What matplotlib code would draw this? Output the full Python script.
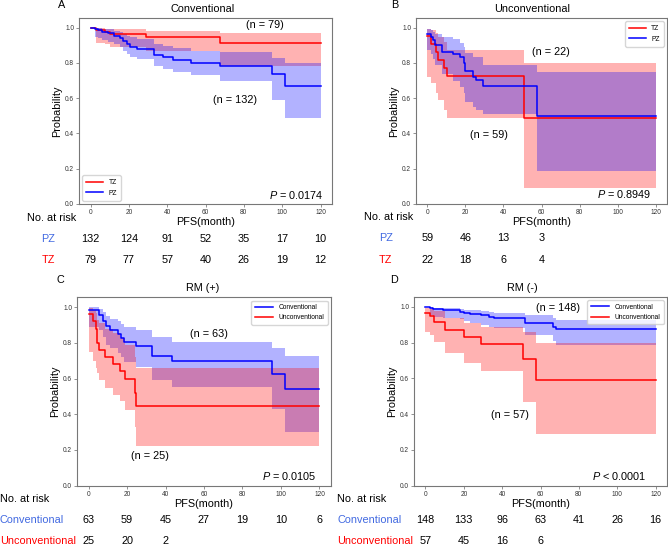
import matplotlib
matplotlib.use('Agg')
import matplotlib.pyplot as plt
from matplotlib.transforms import blended_transform_factory

plt.rcParams['font.family'] = ['Liberation Sans', 'DejaVu Sans']
plt.rcParams['mathtext.fontset'] = 'custom'
plt.rcParams['mathtext.it'] = 'Liberation Sans:italic'
plt.rcParams['mathtext.rm'] = 'Liberation Sans'

# --- A: Conventional, PZ vs TZ ---
a_pz_t = [0, 2.3, 4, 5.8, 9, 12, 15.5, 17.2, 19, 20.5, 24.3, 33, 38, 43, 52.5, 67.5, 94.5, 101.5, 120]
a_pz_s = [1.0, 0.992, 0.985, 0.977, 0.969, 0.955, 0.94, 0.925, 0.905, 0.893, 0.88, 0.845, 0.832, 0.818, 0.80, 0.78, 0.735, 0.672, 0.672]
a_pz_lo = [1.0, 0.95, 0.94, 0.93, 0.92, 0.905, 0.89, 0.87, 0.85, 0.835, 0.82, 0.78, 0.765, 0.75, 0.73, 0.70, 0.592, 0.488, 0.488]
a_pz_hi = [1.0, 0.999, 0.997, 0.994, 0.99, 0.982, 0.975, 0.965, 0.952, 0.945, 0.935, 0.905, 0.895, 0.885, 0.87, 0.861, 0.829, 0.80, 0.80]

a_tz_t = [0, 3, 7.6, 10, 28.7, 67.5, 120]
a_tz_s = [1.0, 0.987, 0.975, 0.965, 0.949, 0.915, 0.915]
a_tz_lo = [1.0, 0.915, 0.905, 0.89, 0.87, 0.78, 0.78]
a_tz_hi = [1.0, 0.998, 0.995, 0.99, 0.981, 0.968, 0.968]

# --- B: Unconventional, PZ vs TZ ---
b_pz_t = [0, 1.8, 3, 4, 7.9, 13.5, 17.2, 19, 20, 24, 25.4, 29, 57.8, 120]
b_pz_s = [0.966, 0.949, 0.932, 0.90, 0.864, 0.851, 0.832, 0.80, 0.756, 0.722, 0.703, 0.671, 0.50, 0.50]
b_pz_lo = [0.873, 0.85, 0.82, 0.788, 0.74, 0.70, 0.665, 0.627, 0.58, 0.552, 0.535, 0.508, 0.189, 0.189]
b_pz_hi = [0.992, 0.985, 0.975, 0.962, 0.945, 0.935, 0.915, 0.892, 0.854, 0.832, 0.832, 0.79, 0.75, 0.75]

b_tz_t = [0, 1.8, 4.6, 5.4, 8.9, 10.2, 51, 120]
b_tz_s = [0.955, 0.909, 0.864, 0.818, 0.773, 0.727, 0.486, 0.486]
b_tz_lo = [0.718, 0.688, 0.628, 0.59, 0.533, 0.49, 0.093, 0.093]
b_tz_hi = [0.994, 0.985, 0.968, 0.95, 0.92, 0.873, 0.80, 0.80]

# --- C: RM (+), Conventional vs Unconventional ---
c_con_t = [0, 5.3, 7.4, 9.1, 10.9, 15.2, 17, 18.2, 24.9, 33.1, 43.3, 95.3, 102.3, 120]
c_con_s = [0.984, 0.957, 0.92, 0.892, 0.87, 0.849, 0.826, 0.802, 0.78, 0.724, 0.698, 0.625, 0.539, 0.539]
c_con_lo = [0.89, 0.87, 0.83, 0.79, 0.77, 0.745, 0.72, 0.69, 0.665, 0.59, 0.55, 0.43, 0.30, 0.30]
c_con_hi = [0.998, 0.99, 0.97, 0.953, 0.935, 0.92, 0.905, 0.89, 0.87, 0.83, 0.802, 0.769, 0.726, 0.726]

c_unc_t = [0, 2.5, 3.9, 4.4, 5.6, 8.8, 12.6, 16.1, 18.7, 24, 24.9, 120]
c_unc_s = [0.963, 0.92, 0.88, 0.80, 0.76, 0.72, 0.68, 0.64, 0.60, 0.52, 0.448, 0.448]
c_unc_lo = [0.748, 0.70, 0.66, 0.63, 0.593, 0.547, 0.51, 0.472, 0.425, 0.33, 0.22, 0.22]
c_unc_hi = [0.995, 0.985, 0.966, 0.93, 0.91, 0.88, 0.855, 0.826, 0.79, 0.72, 0.659, 0.659]

# --- D: RM (-), Conventional vs Unconventional ---
d_con_t = [0, 2.3, 4, 9, 18, 20, 23, 29, 33, 36, 52, 66.5, 68, 120]
d_con_s = [1.0, 0.993, 0.986, 0.98, 0.973, 0.966, 0.959, 0.952, 0.945, 0.938, 0.91, 0.89, 0.877, 0.877]
d_con_lo = [1.0, 0.955, 0.945, 0.94, 0.93, 0.92, 0.91, 0.90, 0.89, 0.88, 0.845, 0.81, 0.786, 0.786]
d_con_hi = [1.0, 0.999, 0.995, 0.993, 0.99, 0.985, 0.98, 0.975, 0.972, 0.968, 0.955, 0.94, 0.925, 0.925]

d_unc_t = [0, 2.2, 4.3, 10.4, 20.2, 29.2, 51, 57.9, 120]
d_unc_s = [0.967, 0.948, 0.914, 0.868, 0.83, 0.794, 0.707, 0.591, 0.591]
d_unc_lo = [0.86, 0.84, 0.805, 0.743, 0.688, 0.643, 0.47, 0.288, 0.288]
d_unc_hi = [0.995, 0.99, 0.975, 0.94, 0.91, 0.89, 0.86, 0.80, 0.80]

# numbers at risk
risk_ticks = [0, 20, 40, 60, 80, 100, 120]
risk_a_pz = [132, 124, 91, 52, 35, 17, 10]
risk_a_tz = [79, 77, 57, 40, 26, 19, 12]
risk_b_pz = [59, 46, 13, 3]
risk_b_tz = [22, 18, 6, 4]
risk_c_con = [63, 59, 45, 27, 19, 10, 6]
risk_c_unc = [25, 20, 2]
risk_d_con = [148, 133, 96, 63, 41, 26, 16]
risk_d_unc = [57, 45, 16, 6]

W, H = 668, 546
FS = 7.8


def fx(x):
    return x / W


def fy(y):
    return 1 - y / H


def km(ax, t, s, lo, hi, color, label):
    ax.fill_between(t, lo, hi, step='post', color=color, alpha=0.3, linewidth=0)
    ax.step(t, s, where='post', color=color, linewidth=1.1, label=label)


def setup_axes(fig, rect, title, title_x):
    ax = fig.add_axes(rect)
    ax.set_xlim(-6, 126)
    ax.set_ylim(0, 1.055)
    ax.set_xticks([0, 20, 40, 60, 80, 100, 120])
    ax.set_yticks([0.0, 0.2, 0.4, 0.6, 0.8, 1.0])
    ax.set_yticklabels(['0.0', '0.2', '0.4', '0.6', '0.8', '1.0'])
    ax.tick_params(labelsize=4.7, length=2, width=0.5, color='#666666',
                   labelcolor='#333333', pad=1.5)
    for sp in ax.spines.values():
        sp.set_color('#777777')
        sp.set_linewidth(0.8)
    ax.set_title(title, fontsize=FS, x=title_x, pad=4.5)
    ax.set_xlabel('PFS(month)', fontsize=FS)
    ax.xaxis.set_label_coords(0.5, -0.072)
    ax.set_ylabel('Probability', fontsize=FS)
    ax.yaxis.set_label_coords(-0.066, 0.5)
    return ax


def risk_table(fig, ax, y_head, y1, y2, lab1, lab2, c1, c2, v1, v2,
               x_head, x1, x2, ha='center'):
    tr = blended_transform_factory(ax.transData, fig.transFigure)
    fig.text(fx(x_head), fy(y_head), 'No. at risk', fontsize=FS, ha=ha, va='center')
    fig.text(fx(x1), fy(y1), lab1, fontsize=FS, color=c1, ha=ha, va='center')
    fig.text(fx(x2), fy(y2), lab2, fontsize=FS, color=c2, ha=ha, va='center')
    for t, v in zip(risk_ticks, v1):
        ax.text(t, fy(y1), str(v), transform=tr, fontsize=FS, ha='center', va='center')
    for t, v in zip(risk_ticks, v2):
        ax.text(t, fy(y2), str(v), transform=tr, fontsize=FS, ha='center', va='center')


fig = plt.figure(figsize=(6.68, 5.46), dpi=100)

# A
axA = setup_axes(fig, [fx(79), fy(204), 253 / W, 186 / H], 'Conventional', 0.49)
km(axA, a_tz_t, a_tz_s, a_tz_lo, a_tz_hi, 'red', 'TZ')
km(axA, a_pz_t, a_pz_s, a_pz_lo, a_pz_hi, 'blue', 'PZ')
axA.legend(loc='lower left', fontsize=4.8, handlelength=2.5, borderpad=0.6)
axA.text(91, 1.013, '(n = 79)', fontsize=FS, ha='center', va='center')
axA.text(75.2, 0.592, '(n = 132)', fontsize=FS, ha='center', va='center')
axA.text(121.7, 0.051, r'$\it{P}$ = 0.0174', fontsize=FS, ha='right', va='center')
risk_table(fig, axA, 218, 238.7, 260, 'PZ', 'TZ', 'royalblue', 'red',
           risk_a_pz, risk_a_tz, 51.7, 48.3, 48.3)

# B
axB = setup_axes(fig, [fx(416), fy(204), 251 / W, 186 / H], 'Unconventional', 0.463)
km(axB, b_tz_t, b_tz_s, b_tz_lo, b_tz_hi, 'red', 'TZ')
km(axB, b_pz_t, b_pz_s, b_pz_lo, b_pz_hi, 'blue', 'PZ')
axB.legend(loc='upper right', fontsize=4.8, handlelength=2.5, borderpad=0.6)
axB.text(64.8, 0.864, '(n = 22)', fontsize=FS, ha='center', va='center')
axB.text(32.4, 0.391, '(n = 59)', fontsize=FS, ha='center', va='center')
axB.text(117.9, 0.056, r'$\it{P}$ = 0.8949', fontsize=FS, ha='right', va='center')
risk_table(fig, axB, 217.3, 237.7, 260, 'PZ', 'TZ', 'royalblue', 'red',
           risk_b_pz, risk_b_tz, 388.7, 385.7, 385.7)

# C
axC = setup_axes(fig, [fx(77), fy(485.7), 254 / W, 188.4 / H], 'RM (+)', 0.496)
km(axC, c_con_t, c_con_s, c_con_lo, c_con_hi, 'blue', 'Conventional')
km(axC, c_unc_t, c_unc_s, c_unc_lo, c_unc_hi, 'red', 'Unconventional')
axC.legend(loc='upper right', fontsize=4.8, handlelength=2.8, borderpad=0.5)
axC.text(62.5, 0.851, '(n = 63)', fontsize=FS, ha='center', va='center')
axC.text(31.9, 0.165, '(n = 25)', fontsize=FS, ha='center', va='center')
axC.text(118.6, 0.057, r'$\it{P}$ = 0.0105', fontsize=FS, ha='right', va='center')
risk_table(fig, axC, 499, 519.7, 541.3, 'Conventional', 'Unconventional', 'royalblue', 'red',
           risk_c_con, risk_c_unc, 0, 0, 0, ha='left')

# D
axD = setup_axes(fig, [fx(414), fy(485.7), 253 / W, 188.7 / H], 'RM (-)', 0.428)
km(axD, d_con_t, d_con_s, d_con_lo, d_con_hi, 'blue', 'Conventional')
km(axD, d_unc_t, d_unc_s, d_unc_lo, d_unc_hi, 'red', 'Unconventional')
axD.legend(loc='upper right', fontsize=4.8, handlelength=2.8, borderpad=0.5)
axD.text(69, 0.996, '(n = 148)', fontsize=FS, ha='center', va='center')
axD.text(44, 0.396, '(n = 57)', fontsize=FS, ha='center', va='center')
axD.text(115.3, 0.057, r'$\it{P}$ < 0.0001', fontsize=FS, ha='right', va='center')
risk_table(fig, axD, 499, 519.7, 541.3, 'Conventional', 'Unconventional', 'royalblue', 'red',
           risk_d_con, risk_d_unc, 337.3, 337.3, 337.3, ha='left')

# panel letters
for lab, x, y in [('A', 61.7, 5), ('B', 394.7, 5), ('C', 60, 280.3), ('D', 394, 280)]:
    fig.text(fx(x), fy(y), lab, fontsize=FS, ha='center', va='center')

fig.savefig('out.png', dpi=100)
